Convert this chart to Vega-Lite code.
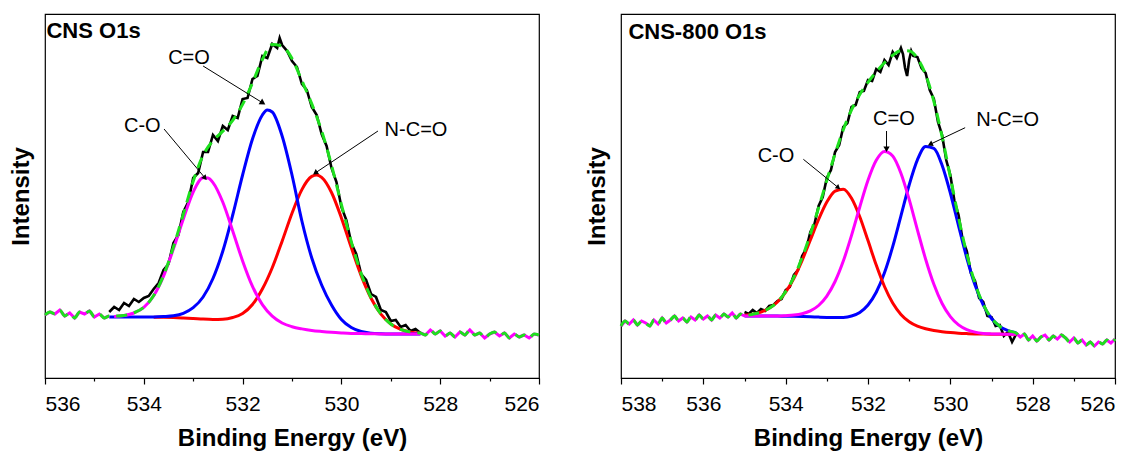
{
"$schema": "https://vega.github.io/schema/vega-lite/v6.json",
"background": "white",
"padding": {"left": 8, "top": 13, "right": 5, "bottom": 2},
"bounds": "flush",
"spacing": 82,
"config": {
  "view": {"stroke": "black", "strokeWidth": 1.2},
  "font": "Liberation Sans",
  "axis": {"grid": false, "labelFont": "Liberation Sans", "labelFontSize": 21, "labelColor": "black", "titleFont": "Liberation Sans", "titleFontSize": 24, "titleFontWeight": "bold", "titleColor": "black", "tickColor": "black", "domainColor": "black", "tickWidth": 1.2, "domainWidth": 1.2}
},
"datasets": {
  "L_curve": [
    {"e":536.0,"v":63,"p":"a"},{"e":535.9,"v":66,"p":"a"},{"e":535.8,"v":64,"p":"a"},{"e":535.7,"v":68,"p":"a"},{"e":535.6,"v":62,"p":"a"},{"e":535.5,"v":65,"p":"a"},{"e":535.4,"v":60,"p":"a"},{"e":535.3,"v":66,"p":"a"},{"e":535.2,"v":64,"p":"a"},{"e":535.1,"v":67,"p":"a"},{"e":535.0,"v":61,"p":"a"},{"e":534.9,"v":64,"p":"a"},{"e":534.8,"v":60,"p":"a"},{"e":534.7,"v":62,"p":"a"},
    {"e":534.6,"v":62.0,"p":"f"},{"e":534.4,"v":62.6,"p":"f"},{"e":534.2,"v":65.2,"p":"f"},{"e":534.0,"v":70.8,"p":"f"},{"e":533.8,"v":82.5,"p":"f"},{"e":533.6,"v":102.6,"p":"f"},{"e":533.4,"v":131.0,"p":"f"},{"e":533.2,"v":163.7,"p":"f"},{"e":533.0,"v":196.8,"p":"f"},{"e":532.8,"v":222.6,"p":"f"},{"e":532.6,"v":237.3,"p":"f"},{"e":532.4,"v":246.9,"p":"f"},{"e":532.2,"v":257.7,"p":"f"},{"e":532.0,"v":273.6,"p":"f"},{"e":531.8,"v":295.1,"p":"f"},{"e":531.6,"v":318.5,"p":"f"},{"e":531.4,"v":333.5,"p":"f"},{"e":531.2,"v":331.8,"p":"f"},{"e":531.0,"v":319.5,"p":"f"},{"e":530.8,"v":297.3,"p":"f"},{"e":530.6,"v":274.1,"p":"f"},{"e":530.4,"v":247.1,"p":"f"},{"e":530.2,"v":212.8,"p":"f"},{"e":530.0,"v":173.5,"p":"f"},{"e":529.8,"v":136.3,"p":"f"},{"e":529.6,"v":104.6,"p":"f"},{"e":529.4,"v":80.4,"p":"f"},{"e":529.2,"v":64.0,"p":"f"},{"e":529.0,"v":54.0,"p":"f"},{"e":528.8,"v":48.6,"p":"f"},{"e":528.6,"v":45.9,"p":"f"},
    {"e":528.4,"v":45,"p":"b"},{"e":528.3,"v":43,"p":"b"},{"e":528.2,"v":48,"p":"b"},{"e":528.1,"v":44,"p":"b"},{"e":528.0,"v":47,"p":"b"},{"e":527.9,"v":42,"p":"b"},{"e":527.8,"v":45,"p":"b"},{"e":527.7,"v":41,"p":"b"},{"e":527.6,"v":46,"p":"b"},{"e":527.5,"v":43,"p":"b"},{"e":527.4,"v":48,"p":"b"},{"e":527.3,"v":43,"p":"b"},{"e":527.2,"v":45,"p":"b"},{"e":527.1,"v":40,"p":"b"},{"e":527.0,"v":44,"p":"b"},{"e":526.9,"v":46,"p":"b"},{"e":526.8,"v":42,"p":"b"},{"e":526.7,"v":45,"p":"b"},{"e":526.6,"v":40,"p":"b"},{"e":526.5,"v":44,"p":"b"},{"e":526.4,"v":41,"p":"b"},{"e":526.3,"v":43,"p":"b"},{"e":526.2,"v":40,"p":"b"},{"e":526.1,"v":44,"p":"b"},{"e":526.0,"v":43,"p":"b"}
  ],
  "L_black": [
    {"e":534.7,"v":66},{"e":534.6,"v":71},{"e":534.5,"v":68},{"e":534.4,"v":75},{"e":534.3,"v":72},{"e":534.2,"v":79},{"e":534.1,"v":76},{"e":534.0,"v":80},{"e":533.9,"v":82},{"e":533.8,"v":89},{"e":533.7,"v":95},{"e":533.6,"v":108},{"e":533.5,"v":114},{"e":533.4,"v":135},{"e":533.3,"v":143},{"e":533.2,"v":166},{"e":533.1,"v":176},{"e":533.0,"v":200},{"e":532.9,"v":205},{"e":532.8,"v":226},{"e":532.7,"v":226},{"e":532.6,"v":243},{"e":532.5,"v":237},{"e":532.4,"v":252},{"e":532.3,"v":248},{"e":532.2,"v":262},{"e":532.1,"v":260},{"e":532.0,"v":279},{"e":531.9,"v":280},{"e":531.8,"v":299},{"e":531.7,"v":302},{"e":531.6,"v":322},{"e":531.5,"v":320},{"e":531.4,"v":334},{"e":531.3,"v":330},{"e":531.25,"v":340},{"e":531.2,"v":333},{"e":531.1,"v":327},{"e":531.0,"v":317},{"e":530.9,"v":311},{"e":530.8,"v":294},{"e":530.7,"v":288},{"e":530.6,"v":271},{"e":530.5,"v":263},{"e":530.4,"v":244},{"e":530.3,"v":232},{"e":530.2,"v":210},{"e":530.1,"v":196},{"e":530.0,"v":171},{"e":529.9,"v":158},{"e":529.8,"v":135},{"e":529.7,"v":124},{"e":529.6,"v":104},{"e":529.5,"v":98},{"e":529.4,"v":84},{"e":529.3,"v":81},{"e":529.2,"v":68},{"e":529.1,"v":66},{"e":529.0,"v":57},{"e":528.9,"v":58},{"e":528.8,"v":51},{"e":528.7,"v":53},{"e":528.6,"v":47},{"e":528.5,"v":49},{"e":528.4,"v":45}
  ],
  "L_comp": [
    {"e":534.6,"v":61.5,"c":"m"},{"e":534.4,"v":62.4,"c":"m"},{"e":534.2,"v":65.0,"c":"m"},{"e":534.0,"v":70.6,"c":"m"},{"e":533.8,"v":82.3,"c":"m"},{"e":533.6,"v":101.9,"c":"m"},{"e":533.4,"v":129.2,"c":"m"},{"e":533.2,"v":159.0,"c":"m"},{"e":533.0,"v":186.0,"c":"m"},{"e":532.8,"v":200.3,"c":"m"},{"e":532.7,"v":200.0,"c":"m"},{"e":532.6,"v":195.4,"c":"m"},{"e":532.4,"v":175.7,"c":"m"},{"e":532.2,"v":147.0,"c":"m"},{"e":532.0,"v":117.1,"c":"m"},{"e":531.8,"v":91.6,"c":"m"},{"e":531.6,"v":73.3,"c":"m"},{"e":531.4,"v":61.8,"c":"m"},{"e":531.2,"v":55.0,"c":"m"},{"e":531.0,"v":51.3,"c":"m"},{"e":530.8,"v":49.1,"c":"m"},{"e":530.6,"v":47.5,"c":"m"},{"e":530.4,"v":46.5,"c":"m"},{"e":530.2,"v":45.7,"c":"m"},{"e":530.0,"v":45.1,"c":"m"},{"e":529.8,"v":44.6,"c":"m"},{"e":529.6,"v":44.4,"c":"m"},{"e":529.4,"v":44.2,"c":"m"},{"e":529.2,"v":44.1,"c":"m"},{"e":529.0,"v":44.0,"c":"m"},{"e":528.8,"v":44.0,"c":"m"},{"e":528.6,"v":44.0,"c":"m"},{"e":528.4,"v":44.0,"c":"m"},
    {"e":534.7,"v":61.0,"c":"b"},{"e":534.4,"v":61.0,"c":"b"},{"e":534.0,"v":61.0,"c":"b"},{"e":533.8,"v":61.0,"c":"b"},{"e":533.6,"v":61.4,"c":"b"},{"e":533.4,"v":62.2,"c":"b"},{"e":533.2,"v":64.7,"c":"b"},{"e":533.0,"v":70.3,"c":"b"},{"e":532.8,"v":81.0,"c":"b"},{"e":532.6,"v":99.5,"c":"b"},{"e":532.4,"v":127.0,"c":"b"},{"e":532.2,"v":163.0,"c":"b"},{"e":532.0,"v":203.0,"c":"b"},{"e":531.8,"v":239.0,"c":"b"},{"e":531.6,"v":263.0,"c":"b"},{"e":531.5,"v":268.0,"c":"b"},{"e":531.4,"v":266.0,"c":"b"},{"e":531.2,"v":242.0,"c":"b"},{"e":531.0,"v":203.0,"c":"b"},{"e":530.8,"v":157.0,"c":"b"},{"e":530.6,"v":120.0,"c":"b"},{"e":530.4,"v":93.0,"c":"b"},{"e":530.2,"v":73.0,"c":"b"},{"e":530.0,"v":58.5,"c":"b"},{"e":529.8,"v":50.5,"c":"b"},{"e":529.6,"v":46.5,"c":"b"},{"e":529.4,"v":44.8,"c":"b"},{"e":529.2,"v":44.2,"c":"b"},{"e":529.0,"v":44.0,"c":"b"},{"e":528.8,"v":44.0,"c":"b"},{"e":528.6,"v":44.0,"c":"b"},{"e":528.4,"v":44.0,"c":"b"},
    {"e":533.8,"v":60.8,"c":"r"},{"e":533.6,"v":60.7,"c":"r"},{"e":533.4,"v":60.4,"c":"r"},{"e":533.2,"v":60.0,"c":"r"},{"e":533.0,"v":59.5,"c":"r"},{"e":532.8,"v":58.9,"c":"r"},{"e":532.6,"v":58.6,"c":"r"},{"e":532.4,"v":58.8,"c":"r"},{"e":532.2,"v":60.5,"c":"r"},{"e":532.0,"v":64.5,"c":"r"},{"e":531.8,"v":73.5,"c":"r"},{"e":531.6,"v":89.0,"c":"r"},{"e":531.4,"v":110.3,"c":"r"},{"e":531.2,"v":136.8,"c":"r"},{"e":531.0,"v":164.8,"c":"r"},{"e":530.8,"v":188.4,"c":"r"},{"e":530.6,"v":201.6,"c":"r"},{"e":530.5,"v":203.0,"c":"r"},{"e":530.4,"v":200.6,"c":"r"},{"e":530.2,"v":185.5,"c":"r"},{"e":530.0,"v":160.1,"c":"r"},{"e":529.8,"v":130.4,"c":"r"},{"e":529.6,"v":102.4,"c":"r"},{"e":529.4,"v":79.8,"c":"r"},{"e":529.2,"v":63.9,"c":"r"},{"e":529.0,"v":54.0,"c":"r"},{"e":528.8,"v":48.6,"c":"r"},{"e":528.6,"v":45.9,"c":"r"},{"e":528.4,"v":44.7,"c":"r"}
  ],
  "L_text": [
    {"e":533.085,"v":320,"t":"C=O"},{"e":534.03,"v":252,"t":"C-O"},{"e":528.49,"v":248,"t":"N-C=O"}
  ],
  "L_title": [{"e":535.97,"v":340.3,"t":"CNS O1s"}],
  "L_arrow": [
    {"id":"co2","e":532.80,"v":312,"e2":531.59,"v2":275},
    {"id":"co","e":533.59,"v":249,"e2":532.76,"v2":200},
    {"id":"nco","e":529.26,"v":247,"e2":530.53,"v2":205}
  ],
  "R_curve": [
    {"e":538.0,"v":52,"p":"a"},{"e":537.9,"v":57,"p":"a"},{"e":537.8,"v":54,"p":"a"},{"e":537.7,"v":58,"p":"a"},{"e":537.6,"v":53,"p":"a"},{"e":537.5,"v":57,"p":"a"},{"e":537.4,"v":55,"p":"a"},{"e":537.3,"v":52,"p":"a"},{"e":537.2,"v":58,"p":"a"},{"e":537.1,"v":54,"p":"a"},{"e":537.0,"v":60,"p":"a"},{"e":536.9,"v":55,"p":"a"},{"e":536.8,"v":58,"p":"a"},{"e":536.7,"v":62,"p":"a"},{"e":536.6,"v":57,"p":"a"},{"e":536.5,"v":60,"p":"a"},{"e":536.4,"v":56,"p":"a"},{"e":536.3,"v":61,"p":"a"},{"e":536.2,"v":58,"p":"a"},{"e":536.1,"v":63,"p":"a"},{"e":536.0,"v":59,"p":"a"},{"e":535.9,"v":62,"p":"a"},{"e":535.8,"v":58,"p":"a"},{"e":535.7,"v":63,"p":"a"},{"e":535.6,"v":60,"p":"a"},{"e":535.5,"v":64,"p":"a"},{"e":535.4,"v":61,"p":"a"},{"e":535.3,"v":65,"p":"a"},{"e":535.2,"v":60,"p":"a"},{"e":535.1,"v":64,"p":"a"},{"e":535.0,"v":62,"p":"a"},
    {"e":534.8,"v":63.8,"p":"f"},{"e":534.6,"v":65.9,"p":"f"},{"e":534.4,"v":69.7,"p":"f"},{"e":534.2,"v":76.0,"p":"f"},{"e":534.0,"v":86.3,"p":"f"},{"e":533.8,"v":100.9,"p":"f"},{"e":533.6,"v":120.4,"p":"f"},{"e":533.4,"v":143.8,"p":"f"},{"e":533.2,"v":170.2,"p":"f"},{"e":533.0,"v":197.6,"p":"f"},{"e":532.8,"v":224.1,"p":"f"},{"e":532.6,"v":248.3,"p":"f"},{"e":532.4,"v":268.2,"p":"f"},{"e":532.2,"v":283.5,"p":"f"},{"e":532.0,"v":295.7,"p":"f"},{"e":531.8,"v":306.1,"p":"f"},{"e":531.6,"v":315.3,"p":"f"},{"e":531.4,"v":322.7,"p":"f"},{"e":531.2,"v":327.3,"p":"f"},{"e":531.0,"v":327.1,"p":"f"},{"e":530.8,"v":319.8,"p":"f"},{"e":530.6,"v":303.3,"p":"f"},{"e":530.4,"v":276.7,"p":"f"},{"e":530.2,"v":241.4,"p":"f"},{"e":530.0,"v":201.0,"p":"f"},{"e":529.8,"v":160.4,"p":"f"},{"e":529.6,"v":124.0,"p":"f"},{"e":529.4,"v":94.7,"p":"f"},{"e":529.2,"v":73.6,"p":"f"},{"e":529.0,"v":59.8,"p":"f"},{"e":528.8,"v":51.7,"p":"f"},{"e":528.6,"v":47.3,"p":"f"},
    {"e":528.4,"v":45,"p":"b"},{"e":528.3,"v":41,"p":"b"},{"e":528.2,"v":44,"p":"b"},{"e":528.1,"v":38,"p":"b"},{"e":528.0,"v":42,"p":"b"},{"e":527.9,"v":37,"p":"b"},{"e":527.8,"v":41,"p":"b"},{"e":527.7,"v":43,"p":"b"},{"e":527.6,"v":38,"p":"b"},{"e":527.5,"v":42,"p":"b"},{"e":527.4,"v":39,"p":"b"},{"e":527.3,"v":43,"p":"b"},{"e":527.2,"v":40,"p":"b"},{"e":527.1,"v":36,"p":"b"},{"e":527.0,"v":40,"p":"b"},{"e":526.9,"v":35,"p":"b"},{"e":526.8,"v":38,"p":"b"},{"e":526.7,"v":33,"p":"b"},{"e":526.6,"v":36,"p":"b"},{"e":526.5,"v":32,"p":"b"},{"e":526.4,"v":36,"p":"b"},{"e":526.3,"v":34,"p":"b"},{"e":526.2,"v":38,"p":"b"},{"e":526.1,"v":35,"p":"b"},{"e":526.0,"v":39,"p":"b"}
  ],
  "R_black": [
    {"e":535.0,"v":66},{"e":534.9,"v":64},{"e":534.8,"v":68},{"e":534.7,"v":65},{"e":534.6,"v":69},{"e":534.5,"v":67},{"e":534.4,"v":72},{"e":534.3,"v":73},{"e":534.2,"v":77},{"e":534.1,"v":79},{"e":534.0,"v":88},{"e":533.9,"v":91},{"e":533.8,"v":103},{"e":533.7,"v":108},{"e":533.6,"v":122},{"e":533.5,"v":129},{"e":533.4,"v":146},{"e":533.3,"v":154},{"e":533.2,"v":172},{"e":533.1,"v":181},{"e":533.0,"v":200},{"e":532.9,"v":208},{"e":532.8,"v":226},{"e":532.7,"v":233},{"e":532.6,"v":251},{"e":532.5,"v":255},{"e":532.4,"v":271},{"e":532.3,"v":273},{"e":532.2,"v":286},{"e":532.1,"v":287},{"e":532.0,"v":298},{"e":531.9,"v":297},{"e":531.8,"v":309},{"e":531.7,"v":306},{"e":531.6,"v":318},{"e":531.5,"v":313},{"e":531.4,"v":326},{"e":531.3,"v":320},{"e":531.2,"v":330},{"e":531.15,"v":324},{"e":531.1,"v":310},{"e":531.05,"v":302},{"e":531.0,"v":318},{"e":530.95,"v":327},{"e":530.9,"v":322},{"e":530.8,"v":321},{"e":530.7,"v":310},{"e":530.6,"v":305},{"e":530.5,"v":288},{"e":530.4,"v":279},{"e":530.3,"v":256},{"e":530.2,"v":243},{"e":530.1,"v":218},{"e":530.0,"v":203},{"e":529.9,"v":177},{"e":529.8,"v":163},{"e":529.7,"v":138},{"e":529.6,"v":127},{"e":529.5,"v":105},{"e":529.4,"v":97},{"e":529.3,"v":80},{"e":529.2,"v":76},{"e":529.1,"v":62},{"e":529.0,"v":61},{"e":528.9,"v":52},{"e":528.8,"v":53},{"e":528.7,"v":42},{"e":528.6,"v":46},{"e":528.5,"v":36},{"e":528.4,"v":44}
  ],
  "R_comp": [
    {"e":535.0,"v":62.8,"c":"r"},{"e":534.8,"v":63.8,"c":"r"},{"e":534.6,"v":65.9,"c":"r"},{"e":534.4,"v":69.7,"c":"r"},{"e":534.2,"v":76.0,"c":"r"},{"e":534.0,"v":85.9,"c":"r"},{"e":533.8,"v":99.8,"c":"r"},{"e":533.6,"v":117.7,"c":"r"},{"e":533.4,"v":138.0,"c":"r"},{"e":533.2,"v":158.5,"c":"r"},{"e":533.0,"v":175.9,"c":"r"},{"e":532.8,"v":186.8,"c":"r"},{"e":532.6,"v":188.8,"c":"r"},{"e":532.4,"v":179.8,"c":"r"},{"e":532.2,"v":161.3,"c":"r"},{"e":532.0,"v":137.4,"c":"r"},{"e":531.8,"v":112.9,"c":"r"},{"e":531.6,"v":91.5,"c":"r"},{"e":531.4,"v":75.0,"c":"r"},{"e":531.2,"v":63.6,"c":"r"},{"e":531.0,"v":56.3,"c":"r"},{"e":530.8,"v":51.9,"c":"r"},{"e":530.6,"v":49.2,"c":"r"},{"e":530.4,"v":47.5,"c":"r"},{"e":530.2,"v":46.3,"c":"r"},{"e":530.0,"v":45.4,"c":"r"},{"e":529.8,"v":44.8,"c":"r"},{"e":529.6,"v":44.4,"c":"r"},{"e":529.4,"v":44.1,"c":"r"},{"e":529.2,"v":43.9,"c":"r"},{"e":529.0,"v":43.8,"c":"r"},{"e":528.8,"v":43.8,"c":"r"},{"e":528.6,"v":43.7,"c":"r"},{"e":528.4,"v":43.7,"c":"r"},
    {"e":535.0,"v":62.0,"c":"m"},{"e":534.6,"v":62.0,"c":"m"},{"e":534.2,"v":61.9,"c":"m"},{"e":534.0,"v":62.3,"c":"m"},{"e":533.8,"v":62.9,"c":"m"},{"e":533.6,"v":64.3,"c":"m"},{"e":533.4,"v":67.1,"c":"m"},{"e":533.2,"v":72.5,"c":"m"},{"e":533.0,"v":81.9,"c":"m"},{"e":532.8,"v":96.5,"c":"m"},{"e":532.6,"v":116.9,"c":"m"},{"e":532.4,"v":142.6,"c":"m"},{"e":532.2,"v":171.0,"c":"m"},{"e":532.0,"v":197.7,"c":"m"},{"e":531.8,"v":217.7,"c":"m"},{"e":531.6,"v":226.6,"c":"m"},{"e":531.4,"v":222.0,"c":"m"},{"e":531.2,"v":204.8,"c":"m"},{"e":531.0,"v":178.6,"c":"m"},{"e":530.8,"v":148.2,"c":"m"},{"e":530.6,"v":118.8,"c":"m"},{"e":530.4,"v":93.7,"c":"m"},{"e":530.2,"v":74.5,"c":"m"},{"e":530.0,"v":61.4,"c":"m"},{"e":529.8,"v":53.1,"c":"m"},{"e":529.6,"v":48.4,"c":"m"},{"e":529.4,"v":45.9,"c":"m"},{"e":529.2,"v":44.6,"c":"m"},{"e":529.0,"v":44.1,"c":"m"},{"e":528.8,"v":43.9,"c":"m"},{"e":528.6,"v":43.7,"c":"m"},{"e":528.4,"v":43.7,"c":"m"},
    {"e":535.0,"v":62.0,"c":"b"},{"e":534.6,"v":62.0,"c":"b"},{"e":534.2,"v":61.9,"c":"b"},{"e":533.8,"v":61.75,"c":"b"},{"e":533.4,"v":61.3,"c":"b"},{"e":533.2,"v":60.9,"c":"b"},{"e":533.0,"v":60.6,"c":"b"},{"e":532.8,"v":60.4,"c":"b"},{"e":532.6,"v":60.6,"c":"b"},{"e":532.4,"v":62.0,"c":"b"},{"e":532.2,"v":65.6,"c":"b"},{"e":532.0,"v":73.0,"c":"b"},{"e":531.8,"v":85.7,"c":"b"},{"e":531.6,"v":105.2,"c":"b"},{"e":531.4,"v":131.3,"c":"b"},{"e":531.2,"v":162.1,"c":"b"},{"e":531.0,"v":193.0,"c":"b"},{"e":530.8,"v":218.1,"c":"b"},{"e":530.6,"v":231.5,"c":"b"},{"e":530.4,"v":229.7,"c":"b"},{"e":530.2,"v":212.8,"c":"b"},{"e":530.0,"v":185.0,"c":"b"},{"e":529.8,"v":152.1,"c":"b"},{"e":529.6,"v":120.0,"c":"b"},{"e":529.4,"v":92.9,"c":"b"},{"e":529.2,"v":72.9,"c":"b"},{"e":529.0,"v":59.5,"c":"b"},{"e":528.8,"v":51.6,"c":"b"},{"e":528.6,"v":47.3,"c":"b"},{"e":528.4,"v":45.2,"c":"b"}
  ],
  "R_text": [
    {"e":534.235,"v":222,"t":"C-O"},{"e":531.37,"v":259.5,"t":"C=O"},{"e":528.61,"v":258,"t":"N-C=O"}
  ],
  "R_title": [{"e":537.82,"v":339,"t":"CNS-800 O1s"}],
  "R_arrow": [
    {"id":"co","e":533.57,"v":218.7,"e2":532.72,"v2":190.3},
    {"id":"co2","e":531.55,"v":247,"e2":531.55,"v2":228.7},
    {"id":"nco","e":529.64,"v":250.3,"e2":530.49,"v2":233.7}
  ]
},
"hconcat": [
  {
    "width": 494, "height": 364,
    "encoding": {
      "x": {"field": "e", "type": "quantitative", "title": "Binding Energy (eV)",
        "scale": {"domain": [526, 536], "reverse": true, "nice": false, "zero": false},
        "axis": {"values": [526,527,528,529,530,531,532,533,534,535,536], "labelExpr": "datum.value % 2 === 0 ? datum.label : ''", "tickSize": {"condition": {"test": "datum.value % 2 === 0", "value": 6}, "value": 3}, "labelPadding": 9, "titlePadding": 12}},
      "y": {"field": "v", "type": "quantitative", "title": "Intensity",
        "scale": {"domain": [0, 364], "nice": false, "zero": false},
        "axis": {"labels": false, "ticks": false, "domain": false, "titlePadding": 12}}
    },
    "layer": [
      {"data": {"name": "L_black"}, "mark": {"type": "line", "color": "black", "strokeWidth": 2.6}},
      {"data": {"name": "L_comp"}, "transform": [{"filter": "datum.c === 'r'"}], "mark": {"type": "line", "color": "#FF0000", "strokeWidth": 3, "interpolate": "monotone"}},
      {"data": {"name": "L_comp"}, "transform": [{"filter": "datum.c === 'b'"}], "mark": {"type": "line", "color": "#0000FF", "strokeWidth": 3, "interpolate": "monotone"}},
      {"data": {"name": "L_comp"}, "transform": [{"filter": "datum.c === 'm'"}], "mark": {"type": "line", "color": "#FF00FF", "strokeWidth": 3, "interpolate": "monotone"}},
      {"data": {"name": "L_curve"}, "transform": [{"filter": "datum.p !== 'f'"}], "mark": {"type": "line", "color": "#FF00FF", "strokeWidth": 3}, "encoding": {"detail": {"field": "p"}}},
      {"data": {"name": "L_curve"}, "mark": {"type": "line", "color": "#1EE01E", "strokeWidth": 3, "strokeDash": [11, 7], "interpolate": "monotone"}},
      {"data": {"name": "L_arrow"}, "mark": {"type": "rule", "color": "black", "strokeWidth": 1}, "encoding": {"x2": {"field": "e2"}, "y2": {"field": "v2"}}},
      {"data": {"name": "L_arrow"}, "transform": [{"filter": "datum.id === 'co2'"}], "mark": {"type": "point", "shape": "triangle-up", "filled": true, "color": "black", "size": 45, "opacity": 1, "angle": 122},
        "encoding": {"x": {"field": "e2", "type": "quantitative", "title": "Binding Energy (eV)"}, "y": {"field": "v2", "type": "quantitative", "title": "Intensity"}}},
      {"data": {"name": "L_arrow"}, "transform": [{"filter": "datum.id === 'co'"}], "mark": {"type": "point", "shape": "triangle-up", "filled": true, "color": "black", "size": 35, "opacity": 1, "angle": 140},
        "encoding": {"x": {"field": "e2", "type": "quantitative", "title": "Binding Energy (eV)"}, "y": {"field": "v2", "type": "quantitative", "title": "Intensity"}}},
      {"data": {"name": "L_arrow"}, "transform": [{"filter": "datum.id === 'nco'"}], "mark": {"type": "point", "shape": "triangle-up", "filled": true, "color": "black", "size": 35, "opacity": 1, "angle": 236},
        "encoding": {"x": {"field": "e2", "type": "quantitative", "title": "Binding Energy (eV)"}, "y": {"field": "v2", "type": "quantitative", "title": "Intensity"}}},
      {"data": {"name": "L_text"}, "mark": {"type": "text", "font": "Liberation Sans", "fontSize": 20, "color": "black", "align": "center", "baseline": "middle"}, "encoding": {"text": {"field": "t"}}},
      {"data": {"name": "L_title"}, "mark": {"type": "text", "font": "Liberation Sans", "fontSize": 22, "fontWeight": "bold", "color": "black", "align": "left", "baseline": "alphabetic"}, "encoding": {"text": {"field": "t"}}}
    ]
  },
  {
    "width": 494, "height": 364,
    "encoding": {
      "x": {"field": "e", "type": "quantitative", "title": "Binding Energy (eV)",
        "scale": {"domain": [526, 538], "reverse": true, "nice": false, "zero": false},
        "axis": {"values": [526,527,528,529,530,531,532,533,534,535,536,537,538], "labelExpr": "datum.value % 2 === 0 ? datum.label : ''", "tickSize": {"condition": {"test": "datum.value % 2 === 0", "value": 6}, "value": 3}, "labelPadding": 9, "titlePadding": 12}},
      "y": {"field": "v", "type": "quantitative", "title": "Intensity",
        "scale": {"domain": [0, 364], "nice": false, "zero": false},
        "axis": {"labels": false, "ticks": false, "domain": false, "titlePadding": 12}}
    },
    "layer": [
      {"data": {"name": "R_black"}, "mark": {"type": "line", "color": "black", "strokeWidth": 2.6}},
      {"data": {"name": "R_comp"}, "transform": [{"filter": "datum.c === 'b'"}], "mark": {"type": "line", "color": "#0000FF", "strokeWidth": 3, "interpolate": "monotone"}},
      {"data": {"name": "R_comp"}, "transform": [{"filter": "datum.c === 'r'"}], "mark": {"type": "line", "color": "#FF0000", "strokeWidth": 3, "interpolate": "monotone"}},
      {"data": {"name": "R_comp"}, "transform": [{"filter": "datum.c === 'm'"}], "mark": {"type": "line", "color": "#FF00FF", "strokeWidth": 3, "interpolate": "monotone"}},
      {"data": {"name": "R_curve"}, "transform": [{"filter": "datum.p !== 'f'"}], "mark": {"type": "line", "color": "#FF00FF", "strokeWidth": 3}, "encoding": {"detail": {"field": "p"}}},
      {"data": {"name": "R_curve"}, "mark": {"type": "line", "color": "#1EE01E", "strokeWidth": 3, "strokeDash": [11, 7], "interpolate": "monotone"}},
      {"data": {"name": "R_arrow"}, "mark": {"type": "rule", "color": "black", "strokeWidth": 1}, "encoding": {"x2": {"field": "e2"}, "y2": {"field": "v2"}}},
      {"data": {"name": "R_arrow"}, "transform": [{"filter": "datum.id === 'co'"}], "mark": {"type": "point", "shape": "triangle-up", "filled": true, "color": "black", "size": 30, "opacity": 1, "angle": 129},
        "encoding": {"x": {"field": "e2", "type": "quantitative", "title": "Binding Energy (eV)"}, "y": {"field": "v2", "type": "quantitative", "title": "Intensity"}}},
      {"data": {"name": "R_arrow"}, "transform": [{"filter": "datum.id === 'co2'"}], "mark": {"type": "point", "shape": "triangle-up", "filled": true, "color": "black", "size": 40, "opacity": 1, "angle": 180},
        "encoding": {"x": {"field": "e2", "type": "quantitative", "title": "Binding Energy (eV)"}, "y": {"field": "v2", "type": "quantitative", "title": "Intensity"}}},
      {"data": {"name": "R_arrow"}, "transform": [{"filter": "datum.id === 'nco'"}], "mark": {"type": "point", "shape": "triangle-up", "filled": true, "color": "black", "size": 35, "opacity": 1, "angle": 245},
        "encoding": {"x": {"field": "e2", "type": "quantitative", "title": "Binding Energy (eV)"}, "y": {"field": "v2", "type": "quantitative", "title": "Intensity"}}},
      {"data": {"name": "R_text"}, "mark": {"type": "text", "font": "Liberation Sans", "fontSize": 20, "color": "black", "align": "center", "baseline": "middle"}, "encoding": {"text": {"field": "t"}}},
      {"data": {"name": "R_title"}, "mark": {"type": "text", "font": "Liberation Sans", "fontSize": 22, "fontWeight": "bold", "color": "black", "align": "left", "baseline": "alphabetic"}, "encoding": {"text": {"field": "t"}}}
    ]
  }
]
}
